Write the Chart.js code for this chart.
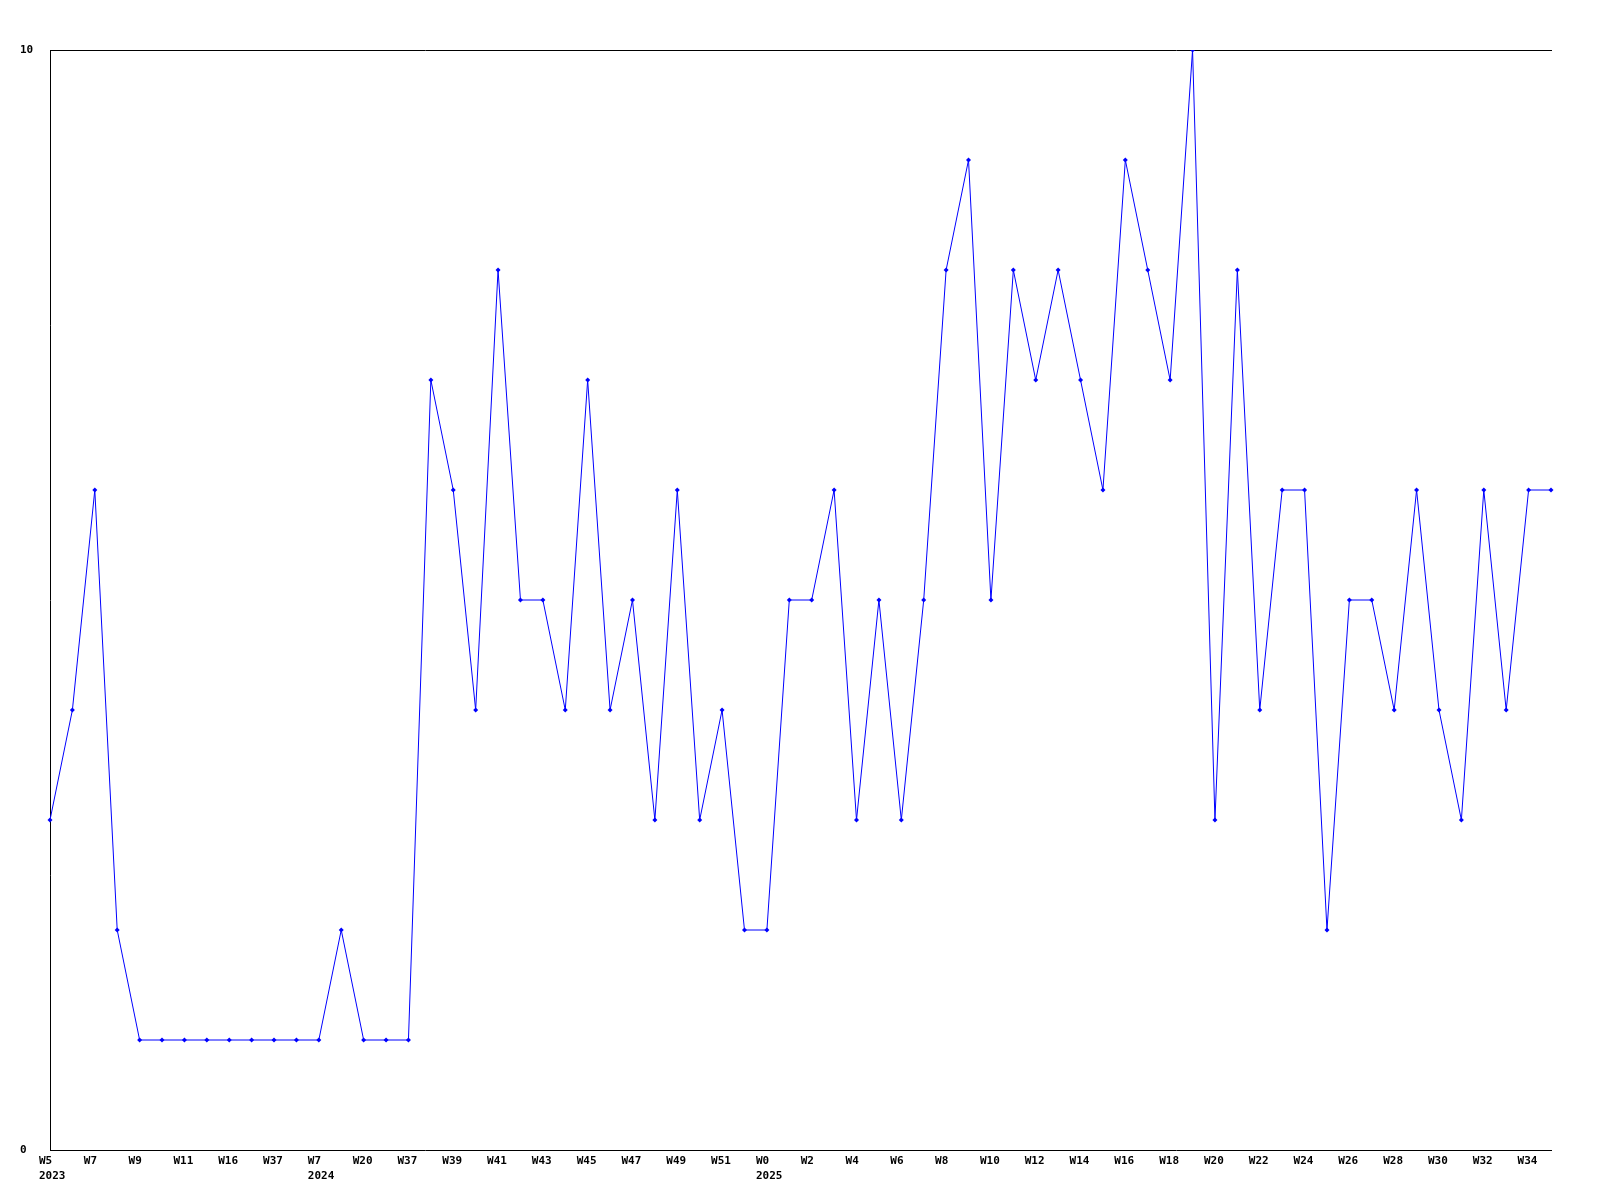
<!DOCTYPE html>
<html>
<head>
<meta charset="utf-8">
<script src="https://cdn.jsdelivr.net/npm/chart.js@4/dist/chart.umd.min.js"></script>
<style>
	body { margin: 0; background: #fff; }
	#wrap { width: 1600px; height: 1200px; }
</style>
</head>
<body>
<div id="wrap"><canvas id="chart" width="1600" height="1200"></canvas></div>
<script>
// week labels (only every other one is shown on the axis)
var weeks = ['W5','W6','W7','W8','W9','W10','W11','W12','W16','W17','W37','W38',
	'W7','W8','W20','W21','W37','W38','W39','W40','W41','W42','W43','W44','W45','W46',
	'W47','W48','W49','W50','W51','W52','W0','W1','W2','W3','W4','W5','W6','W7','W8',
	'W9','W10','W11','W12','W13','W14','W15','W16','W17','W18','W19','W20','W21','W22',
	'W23','W24','W25','W26','W27','W28','W29','W30','W31','W32','W33','W34','W35'];
// year shown under the week where it starts
var years = {0: '2023', 12: '2024', 32: '2025'};

var counts = [3,4,6,2,1,1,1,1,1,1,1,1,1,2,1,1,1,7,6,4,8,5,5,4,7,4,5,3,6,3,4,2,2,5,5,6,
	3,5,3,5,8,9,5,8,7,8,7,6,9,8,7,10,3,8,4,6,6,2,5,5,4,6,4,3,6,4,6,6];

var yMin = 0;
var yMax = 10;

var font = {family: '"DejaVu Sans Mono", monospace', size: 11, weight: 'bold', lineHeight: 1.36};

new Chart(document.getElementById('chart'), {
	type: 'line',
	data: {
		labels: weeks,
		datasets: [{
			data: counts,
			borderColor: '#0000ff',
			backgroundColor: '#0000ff',
			borderWidth: 1,
			tension: 0,
			pointStyle: 'rectRot',
			pointRadius: 2.5,
			pointBorderWidth: 0,
			fill: false
		}]
	},
	options: {
		responsive: false,
		animation: false,
		layout: {padding: {left: 20, top: 0, right: 49, bottom: 0}},
		plugins: {legend: {display: false}, tooltip: {enabled: false}},
		scales: {
			x: {
				offset: false,
				grid: {display: false, drawTicks: false},
				border: {color: '#000', width: 1},
				ticks: {
					autoSkip: false,
					maxRotation: 0,
					padding: 4,
					align: 'start',
					labelOffset: -11,
					color: '#000',
					font: font,
					callback: function(v, i) {
						if (i % 2) return '';
						return years[i] ? [weeks[i], years[i]] : weeks[i];
					}
				},
				afterFit: function(s) { s.height = 50; }
			},
			x2: {
				position: 'top',
				grid: {display: false, drawTicks: false},
				border: {color: '#000', width: 1},
				ticks: {display: false},
				afterFit: function(s) { s.height = 50; }
			},
			y: {
				min: yMin,
				max: yMax,
				grid: {display: false, drawTicks: false},
				border: {color: '#000', width: 1},
				ticks: {stepSize: 10, color: '#000', font: font, crossAlign: 'far', padding: 0},
				afterFit: function(s) { s.width = 30; }
			}
		}
	}
});
</script>
</body>
</html>
